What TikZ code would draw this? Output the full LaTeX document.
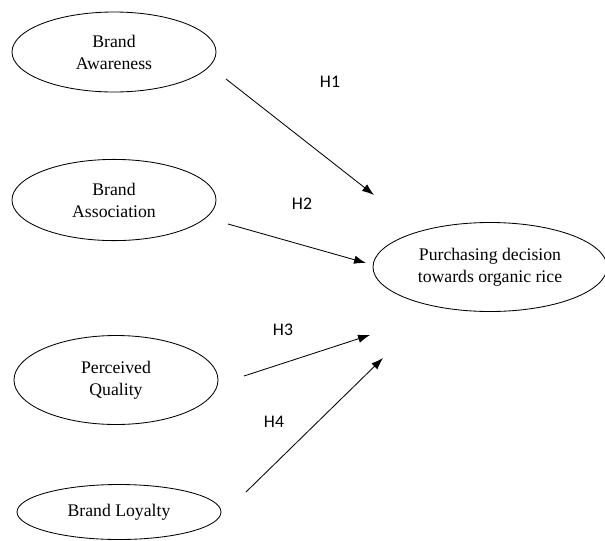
\documentclass[tikz,border=0pt]{standalone}
\usepackage{fontspec}
\setmainfont{Liberation Serif}
\newfontfamily\hfont{Carlito}
\usetikzlibrary{shapes.geometric,arrows.meta}

\begin{document}
\begin{tikzpicture}[
            construct/.style={ellipse, draw, line width=0.6pt, inner sep=0pt,
                minimum width=5.1cm, align=center,
                font=\fontsize{12.6}{15.6}\selectfont},
            path/.style={line width=0.6pt, -{Latex[length=8.5pt,width=6pt]}},
            hyp/.style={font=\hfont\fontsize{12.6}{15}\selectfont}
        ]
        \useasboundingbox (0,0) rectangle (15.125,-13.5);

        \node[construct, minimum height=2cm] (awareness) at (2.85,-1.3) {Brand\\Awareness};
        \node[construct, minimum height=2.03cm] (association) at (2.85,-5.0) {Brand\\Association};
        \node[construct, minimum height=2.225cm] (quality) at (2.9,-9.5) {Perceived\\Quality};
        \node[construct, minimum height=1.375cm] (loyalty) at (2.975,-12.8) {Brand Loyalty};
        \node[construct, minimum width=5.85cm, minimum height=2.225cm] (decision) at (12.25,-6.675)
            {Purchasing decision\\towards organic rice};

        % arrow ends
        \coordinate (h1s) at (5.65,-1.975);
        \coordinate (h1e) at (9.35,-4.875);
        \coordinate (h2s) at (5.7,-5.6);
        \coordinate (h2e) at (9.15,-6.575);
        \coordinate (h3s) at (6.1,-9.4);
        \coordinate (h3e) at (9.25,-8.375);
        \coordinate (h4s) at (6.15,-12.3);
        \coordinate (h4e) at (9.575,-8.95);

        \draw[path] (h1s) -- (h1e);
        \draw[path] (h2s) -- (h2e);
        \draw[path] (h3s) -- (h3e);
        \draw[path] (h4s) -- (h4e);

        \node[hyp] (h1) at (8.25,-2.05) {H1};
        \node[hyp] (h2) at (7.55,-5.1) {H2};
        \node[hyp] (h3) at (7.075,-8.25) {H3};
        \node[hyp] (h4) at (6.85,-10.55) {H4};
    \end{tikzpicture}
\end{document}
